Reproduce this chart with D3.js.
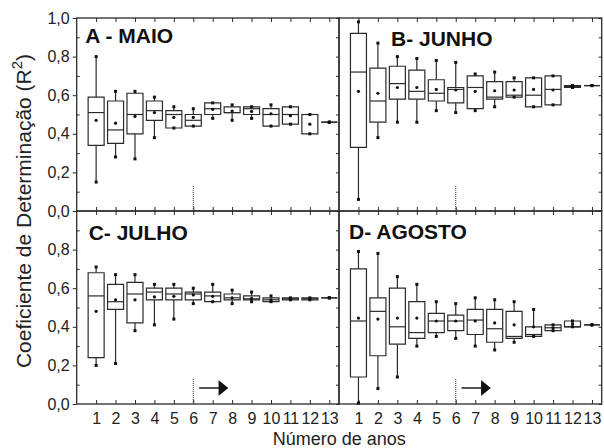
<!DOCTYPE html>
<html>
<head>
<meta charset="utf-8">
<script src="https://cdn.jsdelivr.net/npm/d3@7"></script>
<style>
  body { margin: 0; background: #fff; }
  svg { display: block; font-family: "Liberation Sans", Arial, sans-serif; }
</style>
</head>
<body>
<div id="chart"></div>
<script>
// number of years (x categories)
const anos = [1, 2, 3, 4, 5, 6, 7, 8, 9, 10, 11, 12, 13];
const panelTitles = ["A - MAIO", "B- JUNHO", "C- JULHO", "D- AGOSTO"];
const yMajor = [0, 0.2, 0.4, 0.6, 0.8, 1.0];

// each row: [min, q1, median, q3, max, mean]
const maio = [
  [0.15, 0.34, 0.51, 0.59, 0.80, 0.47],
  [0.28, 0.35, 0.42, 0.57, 0.62, 0.455],
  [0.27, 0.40, 0.50, 0.61, 0.62, 0.49],
  [0.38, 0.47, 0.52, 0.57, 0.59, 0.51],
  [0.43, 0.43, 0.50, 0.52, 0.54, 0.485],
  [0.44, 0.44, 0.47, 0.50, 0.53, 0.485],
  [0.48, 0.50, 0.53, 0.56, 0.56, 0.527],
  [0.47, 0.51, 0.51, 0.54, 0.55, 0.518],
  [0.48, 0.50, 0.53, 0.54, 0.54, 0.516],
  [0.44, 0.44, 0.50, 0.53, 0.55, 0.504],
  [0.45, 0.45, 0.50, 0.54, 0.54, 0.494],
  [0.40, 0.40, 0.50, 0.50, 0.50, 0.45],
  [0.46, 0.46, 0.46, 0.46, 0.46, 0.46]
];
const junho = [
  [0.06, 0.33, 0.72, 0.92, 0.98, 0.62],
  [0.38, 0.46, 0.57, 0.74, 0.87, 0.61],
  [0.46, 0.58, 0.66, 0.75, 0.80, 0.64],
  [0.46, 0.58, 0.62, 0.73, 0.79, 0.64],
  [0.52, 0.57, 0.61, 0.68, 0.78, 0.63],
  [0.51, 0.56, 0.63, 0.64, 0.77, 0.627],
  [0.52, 0.53, 0.64, 0.70, 0.71, 0.62],
  [0.54, 0.58, 0.59, 0.67, 0.72, 0.623],
  [0.59, 0.59, 0.60, 0.67, 0.69, 0.627],
  [0.54, 0.54, 0.60, 0.69, 0.69, 0.63],
  [0.55, 0.55, 0.63, 0.70, 0.70, 0.627],
  [0.64, 0.64, 0.645, 0.65, 0.65, 0.645],
  [0.65, 0.65, 0.65, 0.65, 0.65, 0.65]
];
const julho = [
  [0.20, 0.24, 0.56, 0.68, 0.71, 0.48],
  [0.21, 0.49, 0.53, 0.62, 0.67, 0.54],
  [0.38, 0.42, 0.57, 0.63, 0.67, 0.54],
  [0.41, 0.54, 0.58, 0.60, 0.62, 0.555],
  [0.44, 0.54, 0.57, 0.60, 0.62, 0.558],
  [0.52, 0.54, 0.57, 0.58, 0.60, 0.565],
  [0.53, 0.53, 0.56, 0.58, 0.62, 0.558],
  [0.52, 0.54, 0.55, 0.57, 0.59, 0.55],
  [0.53, 0.54, 0.545, 0.56, 0.58, 0.547],
  [0.53, 0.53, 0.54, 0.55, 0.56, 0.54],
  [0.54, 0.54, 0.545, 0.55, 0.55, 0.545],
  [0.54, 0.54, 0.545, 0.55, 0.55, 0.545],
  [0.55, 0.55, 0.55, 0.55, 0.55, 0.55]
];
const agosto = [
  [0.005, 0.14, 0.43, 0.70, 0.79, 0.445],
  [0.08, 0.25, 0.48, 0.55, 0.78, 0.44],
  [0.14, 0.31, 0.40, 0.60, 0.66, 0.445],
  [0.30, 0.34, 0.37, 0.53, 0.62, 0.445],
  [0.35, 0.37, 0.43, 0.47, 0.53, 0.43],
  [0.34, 0.38, 0.43, 0.46, 0.52, 0.43],
  [0.30, 0.36, 0.435, 0.49, 0.55, 0.43],
  [0.28, 0.32, 0.39, 0.49, 0.54, 0.42],
  [0.32, 0.34, 0.35, 0.48, 0.53, 0.41],
  [0.35, 0.35, 0.36, 0.40, 0.49, 0.40],
  [0.38, 0.38, 0.395, 0.41, 0.41, 0.395],
  [0.40, 0.40, 0.40, 0.43, 0.43, 0.415],
  [0.41, 0.41, 0.41, 0.41, 0.41, 0.41]
];

const W = 604, H = 448;
const padL = 76.7, padMid = 339, padR = 601.7;
const padT = 18, padMidY = 211, padB = 404;
const ink = "#2b2b2b";
const boxW = 16;

const svg = d3.select("#chart").append("svg")
  .attr("width", W).attr("height", H);

const panels = [
  { data: maio,   x0: padL,   x1: padMid, y0: padT,    y1: padMidY, tx: 8.5, ty: 25, yLabels: yMajor,             xLabels: false, marker: false },
  { data: junho,  x0: padMid, x1: padR,   y0: padT,    y1: padMidY, tx: 52,  ty: 28, yLabels: null,               xLabels: false, marker: false },
  { data: julho,  x0: padL,   x1: padMid, y0: padMidY, y1: padB,    tx: 12,  ty: 29, yLabels: yMajor.slice(0, 5), xLabels: true,  marker: true },
  { data: agosto, x0: padMid, x1: padR,   y0: padMidY, y1: padB,    tx: 10,  ty: 28, yLabels: null,               xLabels: true,  marker: true }
];

const fmt = d => d3.format(".1f")(d).replace(".", ",");
const minorAll = d3.range(0, 1.0001, 0.1);
const minorOnly = [0.1, 0.3, 0.5, 0.7, 0.9];

panels.forEach((p, i) => {
  const x = d3.scaleLinear().domain([0, 13.5]).range([p.x0, p.x1]);
  const y = d3.scaleLinear().domain([0, 1]).range([p.y1, p.y0]);
  const g = svg.append("g");

  // frame
  g.append("rect")
    .attr("x", p.x0).attr("y", p.y0)
    .attr("width", p.x1 - p.x0).attr("height", p.y1 - p.y0)
    .attr("fill", "none").attr("stroke", ink).attr("stroke-width", 1.3);

  // top ticks (inward)
  g.append("g").attr("transform", `translate(0,${p.y0})`)
    .call(d3.axisBottom(x).tickValues(anos).tickSize(4).tickFormat(""));
  // bottom ticks (inward)
  g.append("g").attr("transform", `translate(0,${p.y1})`)
    .call(d3.axisTop(x).tickValues(anos).tickSize(4).tickFormat(""));
  // right side ticks (inward)
  g.append("g").attr("transform", `translate(${p.x1},0)`)
    .call(d3.axisLeft(y).tickValues(minorAll).tickSize(3).tickFormat(""));

  if (p.yLabels) {
    g.append("g").attr("transform", `translate(${p.x0},0)`)
      .call(d3.axisLeft(y).tickValues(p.yLabels).tickSize(4).tickPadding(3).tickFormat(fmt));
    g.append("g").attr("transform", `translate(${p.x0},0)`)
      .call(d3.axisRight(y).tickValues(minorOnly).tickSize(3).tickFormat(""));
  }
  if (p.xLabels) {
    g.append("g").attr("transform", `translate(0,${p.y1})`)
      .call(d3.axisBottom(x).tickValues(anos).tickSize(0).tickPadding(9).tickFormat(d3.format("d")));
  }

  g.selectAll(".domain").remove();
  g.selectAll(".tick line").attr("stroke", ink).attr("stroke-width", 1);
  g.selectAll(".tick text").attr("fill", "#222").attr("font-size", 16);

  // dotted reference line at 6 years
  g.append("line")
    .attr("x1", x(6)).attr("x2", x(6))
    .attr("y1", y(0)).attr("y2", y(0.135))
    .attr("stroke", ink).attr("stroke-width", 1).attr("stroke-dasharray", "1,1");

  if (p.marker) {
    const ay = y(0.083);
    g.append("line")
      .attr("x1", x(6.3)).attr("x2", x(7.35))
      .attr("y1", ay).attr("y2", ay)
      .attr("stroke", ink).attr("stroke-width", 1.6);
    g.append("path")
      .attr("d", `M${x(7.3)},${ay - 8}L${x(7.8)},${ay}L${x(7.3)},${ay + 8}Z`)
      .attr("fill", "#111");
  }

  // boxes
  const boxes = g.selectAll(".box").data(p.data).enter().append("g").attr("class", "box");
  boxes.append("line")
    .attr("x1", (d, k) => x(anos[k])).attr("x2", (d, k) => x(anos[k]))
    .attr("y1", d => y(d[3])).attr("y2", d => y(d[4]))
    .attr("stroke", ink).attr("stroke-width", 1.2);
  boxes.append("line")
    .attr("x1", (d, k) => x(anos[k])).attr("x2", (d, k) => x(anos[k]))
    .attr("y1", d => y(d[1])).attr("y2", d => y(d[0]))
    .attr("stroke", ink).attr("stroke-width", 1.2);
  boxes.append("path")
    .attr("d", (d, k) => {
      const cx = x(anos[k]);
      return `M${cx - boxW / 2},${y(d[3])}H${cx + boxW / 2}V${y(d[1])}H${cx - boxW / 2}Z`;
    })
    .attr("fill", "#fff").attr("stroke", ink).attr("stroke-width", 1.2);
  boxes.append("line")
    .attr("x1", (d, k) => x(anos[k]) - boxW / 2).attr("x2", (d, k) => x(anos[k]) + boxW / 2)
    .attr("y1", d => y(d[2])).attr("y2", d => y(d[2]))
    .attr("stroke", ink).attr("stroke-width", 1.2);
  [0, 4].forEach(j => {
    boxes.append("rect")
      .attr("x", (d, k) => x(anos[k]) - 1.5).attr("y", d => y(d[j]) - 1.5)
      .attr("width", 3).attr("height", 3).attr("fill", "#111");
  });
  boxes.append("circle")
    .attr("cx", (d, k) => x(anos[k])).attr("cy", d => y(d[5]))
    .attr("r", 1.6).attr("fill", "#111");

  // panel title
  g.append("text")
    .attr("x", p.x0 + p.tx).attr("y", p.y0 + p.ty)
    .attr("font-size", 21).attr("font-weight", "bold").attr("fill", "#111")
    .text(panelTitles[i]);
});

// axis titles
svg.append("text")
  .attr("x", (padL + padR) / 2).attr("y", 445)
  .attr("text-anchor", "middle").attr("font-size", 18).attr("fill", "#222")
  .text("Número de anos");

const yt = svg.append("text")
  .attr("transform", `translate(31,${(padT + padB) / 2}) rotate(-90)`)
  .attr("text-anchor", "middle").attr("font-size", 21).attr("fill", "#222");
yt.append("tspan").text("Coeficiente de Determinação (R");
yt.append("tspan").attr("font-size", 15).attr("dy", -9).text("2");
yt.append("tspan").attr("dy", 9).text(")");
</script>
</body>
</html>
